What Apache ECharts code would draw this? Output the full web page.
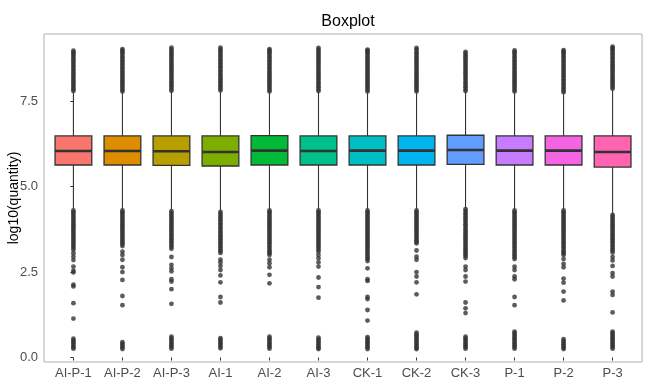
<!DOCTYPE html>
<html>
<head>
<meta charset="utf-8">
<script src="https://cdn.jsdelivr.net/npm/echarts@6/dist/echarts.min.js"></script>
<style>html,body{margin:0;padding:0;background:#fff}#c{width:663px;height:389px}</style>
</head>
<body>
<div id="c"></div>
<script>
const categories = ['AI-P-1','AI-P-2','AI-P-3','AI-1','AI-2','AI-3','CK-1','CK-2','CK-3','P-1','P-2','P-3'];
const colors = ['#F8766D','#DE8C00','#B79F00','#7CAE00','#00BA38','#00C08B','#00BFC4','#00B4F0','#619CFF','#C77CFF','#F564E3','#FF64B0'];
const whiskerLow  = [4.34,4.34,4.32,4.30,4.34,4.34,4.34,4.34,4.38,4.34,4.34,4.20];
const q1          = [5.63,5.63,5.62,5.60,5.63,5.63,5.63,5.63,5.65,5.63,5.63,5.57];
const median      = [6.04,6.04,6.03,6.01,6.05,6.04,6.05,6.05,6.07,6.05,6.05,6.01];
const q3          = [6.48,6.48,6.48,6.48,6.49,6.48,6.48,6.48,6.50,6.48,6.48,6.48];
const whiskerHigh = [7.76,7.75,7.77,7.78,7.75,7.76,7.75,7.75,7.76,7.75,7.73,7.83];
const yTicks = [0, 2.5, 5, 7.5];

const outAIP1 = [7.79,7.84,7.89,7.95,8.0,8.06,8.11,8.17,8.22,8.28,8.33,8.39,8.44,8.5,8.55,8.61,8.66,8.72,8.77,8.83,8.88,8.93,8.97,
  4.3,4.25,4.2,4.14,4.09,4.03,3.98,3.92,3.87,3.81,3.76,3.7,3.65,3.59,3.54,3.48,3.43,3.37,3.32,3.26,3.21,3.15,3.05,2.95,2.85,2.66,2.54,2.49,2.13,2.08,1.59,1.14,0.55,0.5,0.45,0.4,0.35,0.3,0.26];
const outAIP2 = [7.78,7.83,7.89,7.94,8.0,8.05,8.11,8.16,8.22,8.27,8.33,8.38,8.44,8.49,8.55,8.6,8.66,8.71,8.77,8.82,8.88,8.93,8.98,9.02,
  4.3,4.25,4.2,4.14,4.09,4.03,3.98,3.92,3.87,3.81,3.76,3.7,3.65,3.59,3.54,3.48,3.43,3.37,3.32,3.26,3.1,3.0,2.86,2.64,2.5,2.27,1.8,1.53,0.45,0.4,0.35,0.3,0.25];
const outAIP3 = [7.8,7.85,7.91,7.96,8.02,8.07,8.13,8.18,8.24,8.29,8.35,8.4,8.46,8.51,8.57,8.62,8.68,8.73,8.79,8.84,8.9,8.95,9.01,9.06,
  4.28,4.23,4.17,4.12,4.06,4.01,3.95,3.9,3.84,3.79,3.73,3.68,3.62,3.57,3.51,3.46,3.4,3.35,3.29,3.24,3.18,2.94,2.71,2.61,2.52,2.29,2.22,2.0,1.57,0.61,0.56,0.51,0.46,0.41,0.36,0.31,0.26];
const outAI1 = [7.81,7.86,7.92,7.97,8.03,8.08,8.14,8.19,8.25,8.3,8.36,8.41,8.47,8.52,8.58,8.63,8.69,8.74,8.8,8.85,8.91,8.96,9.01,9.06,
  4.26,4.21,4.15,4.1,4.04,3.99,3.93,3.88,3.82,3.77,3.71,3.66,3.6,3.55,3.49,3.44,3.38,3.33,3.27,3.22,3.16,3.11,3.06,2.86,2.78,2.68,2.56,2.4,2.2,1.77,1.61,0.57,0.52,0.47,0.42,0.37,0.32,0.27];
const outAI2 = [7.78,7.83,7.89,7.94,8.0,8.05,8.11,8.16,8.22,8.27,8.33,8.38,8.44,8.49,8.55,8.6,8.66,8.71,8.77,8.82,8.88,8.93,8.98,9.02,
  4.3,4.25,4.2,4.14,4.09,4.03,3.98,3.92,3.87,3.81,3.76,3.7,3.65,3.59,3.54,3.48,3.43,3.37,3.32,3.26,3.21,3.15,3.1,3.05,3.0,2.86,2.76,2.64,2.42,2.17,0.61,0.56,0.51,0.46,0.41,0.36,0.31,0.26];
const outAI3 = [7.79,7.84,7.9,7.95,8.01,8.06,8.12,8.17,8.23,8.28,8.34,8.39,8.45,8.5,8.56,8.61,8.67,8.72,8.78,8.83,8.89,8.94,9.0,9.05,
  4.3,4.25,4.2,4.14,4.09,4.03,3.98,3.92,3.87,3.81,3.76,3.7,3.65,3.59,3.54,3.48,3.43,3.37,3.32,3.26,3.21,3.15,3.1,3.0,2.9,2.78,2.66,2.34,2.06,1.75,0.58,0.53,0.48,0.43,0.38,0.33,0.28,0.25];
const outCK1 = [7.78,7.83,7.89,7.94,8.0,8.05,8.11,8.16,8.22,8.27,8.33,8.38,8.44,8.49,8.55,8.6,8.66,8.71,8.77,8.82,8.88,8.93,8.97,9.0,
  4.3,4.25,4.2,4.14,4.09,4.03,3.98,3.92,3.87,3.81,3.76,3.7,3.65,3.59,3.54,3.48,3.43,3.37,3.32,3.26,3.21,3.15,3.1,3.04,2.99,2.93,2.88,2.82,2.61,2.29,2.24,1.77,1.71,1.39,1.08,0.6,0.55,0.5,0.45,0.4,0.35,0.3,0.25];
const outCK2 = [7.78,7.83,7.89,7.94,8.0,8.05,8.11,8.16,8.22,8.27,8.33,8.38,8.44,8.49,8.55,8.6,8.66,8.71,8.77,8.82,8.88,8.93,9.0,9.05,
  4.3,4.25,4.2,4.14,4.09,4.03,3.98,3.92,3.87,3.81,3.76,3.7,3.65,3.59,3.54,3.48,3.43,3.38,3.34,3.13,2.95,2.86,2.5,2.37,2.2,1.85,0.73,0.68,0.63,0.58,0.53,0.48,0.43,0.38,0.33,0.28,0.25];
const outCK3 = [7.79,7.84,7.9,7.95,8.01,8.06,8.12,8.17,8.23,8.28,8.34,8.39,8.45,8.5,8.56,8.61,8.67,8.72,8.78,8.83,8.89,8.94,
  4.34,4.29,4.23,4.18,4.12,4.07,4.01,3.96,3.9,3.85,3.79,3.74,3.68,3.63,3.57,3.52,3.46,3.41,3.35,3.3,3.24,3.19,3.13,3.08,3.02,2.97,2.91,2.66,2.56,2.37,2.22,1.61,1.44,1.3,0.61,0.56,0.51,0.46,0.41,0.36,0.31,0.26];
const outP1 = [7.78,7.83,7.89,7.94,8.0,8.05,8.11,8.16,8.22,8.27,8.33,8.38,8.44,8.49,8.55,8.6,8.66,8.71,8.77,8.82,8.88,8.93,8.98,
  4.3,4.25,4.2,4.14,4.09,4.03,3.98,3.92,3.87,3.81,3.76,3.7,3.65,3.59,3.54,3.48,3.43,3.37,3.32,3.26,3.21,3.15,3.1,3.04,2.99,2.93,2.88,2.66,2.56,2.37,2.29,1.77,1.53,0.76,0.71,0.66,0.61,0.56,0.51,0.46,0.41,0.36,0.31,0.26];
const outP2 = [7.76,7.81,7.87,7.92,7.98,8.03,8.09,8.14,8.2,8.25,8.31,8.36,8.42,8.47,8.53,8.58,8.64,8.69,8.75,8.8,8.86,8.91,8.95,8.99,
  4.3,4.25,4.2,4.14,4.09,4.03,3.98,3.92,3.87,3.81,3.76,3.7,3.65,3.59,3.54,3.48,3.43,3.37,3.32,3.26,3.21,3.15,3.1,3.05,3.0,2.88,2.74,2.64,2.31,2.19,1.93,1.67,0.54,0.49,0.44,0.39,0.34,0.29,0.25];
const outP3 = [7.86,7.91,7.97,8.02,8.08,8.13,8.19,8.24,8.3,8.35,8.41,8.46,8.52,8.57,8.63,8.68,8.74,8.79,8.85,8.9,8.96,9.01,9.05,9.09,
  4.17,4.12,4.06,4.01,3.95,3.9,3.84,3.79,3.73,3.68,3.62,3.57,3.51,3.46,3.4,3.35,3.29,3.24,3.18,3.13,3.07,2.94,2.84,2.68,2.47,2.37,1.93,1.83,1.32,0.76,0.71,0.66,0.61,0.56,0.51,0.46,0.41,0.36,0.31,0.26];
const outliers = [outAIP1,outAIP2,outAIP3,outAI1,outAI2,outAI3,outCK1,outCK2,outCK3,outP1,outP2,outP3];

const boxData = categories.map((c,i)=>[i, whiskerLow[i], q1[i], median[i], q3[i], whiskerHigh[i]]);
const outData = [];
outliers.forEach((arr,i)=>arr.forEach(v=>outData.push([i,v])));
const idx = categories.map((c,i)=>i);

const chart = echarts.init(document.getElementById('c'), null, {renderer:'canvas'});
chart.setOption({
  animation:false,
  backgroundColor:'#fff',
  title:{text:'Boxplot', left:343, top:9, textAlign:'center',
    textStyle:{fontFamily:'Liberation Sans', fontSize:16, fontWeight:'normal', color:'#000'}},
  grid:{left:44, right:21, top:34, bottom:27, show:true, borderColor:'#b0b0b0', borderWidth:1, backgroundColor:'#fff',
    containLabel:false, outerBoundsMode:'none'},
  xAxis:{type:'value', min:-0.6, max:11.6,
    axisLine:{show:false}, splitLine:{show:false},
    axisTick:{show:true, customValues:idx, length:3, lineStyle:{color:'#333'}},
    axisLabel:{customValues:idx, formatter:v=>categories[Math.round(v)], margin:5,
      fontFamily:'Liberation Sans', fontSize:13, color:'#4d4d4d'}},
  yAxis:{type:'value', min:-0.13, max:9.46,
    name:'log10(quantity)', nameLocation:'middle', nameGap:23, nameMoveOverlap:false,
    nameTextStyle:{fontFamily:'Liberation Sans', fontSize:14, color:'#000'},
    axisLine:{show:false}, splitLine:{show:false},
    axisTick:{show:true, customValues:yTicks, length:3, lineStyle:{color:'#333'}},
    axisLabel:{customValues:yTicks, formatter:v=>v.toFixed(1), margin:6,
      fontFamily:'Liberation Sans', fontSize:13, color:'#4d4d4d'}},
  series:[
    {type:'custom', data:boxData, encode:{x:0, y:[1,2,3,4,5]},
     renderItem:function(params, api){
       const i = api.value(0);
       const x = api.coord([i, 0])[0];
       const w = api.size([1,0])[0]*0.75;
       const yLo = api.coord([i, api.value(1)])[1];
       const yQ1 = api.coord([i, api.value(2)])[1];
       const yMed = api.coord([i, api.value(3)])[1];
       const yQ3 = api.coord([i, api.value(4)])[1];
       const yHi = api.coord([i, api.value(5)])[1];
       return {type:'group', children:[
         {type:'line', shape:{x1:x,y1:yLo,x2:x,y2:yQ1}, style:{stroke:'#333', lineWidth:1.1}},
         {type:'line', shape:{x1:x,y1:yQ3,x2:x,y2:yHi}, style:{stroke:'#333', lineWidth:1.1}},
         {type:'rect', shape:{x:x-w/2, y:yQ3, width:w, height:yQ1-yQ3}, style:{fill:colors[i], stroke:'#333', lineWidth:1.3}},
         {type:'line', shape:{x1:x-w/2,y1:yMed,x2:x+w/2,y2:yMed}, style:{stroke:'#333', lineWidth:2.6}}
       ]};
     }},
    {type:'scatter', data:outData, symbol:'circle', symbolSize:4.8,
     itemStyle:{color:'#333'}, silent:true}
  ]
});
</script>
</body>
</html>
